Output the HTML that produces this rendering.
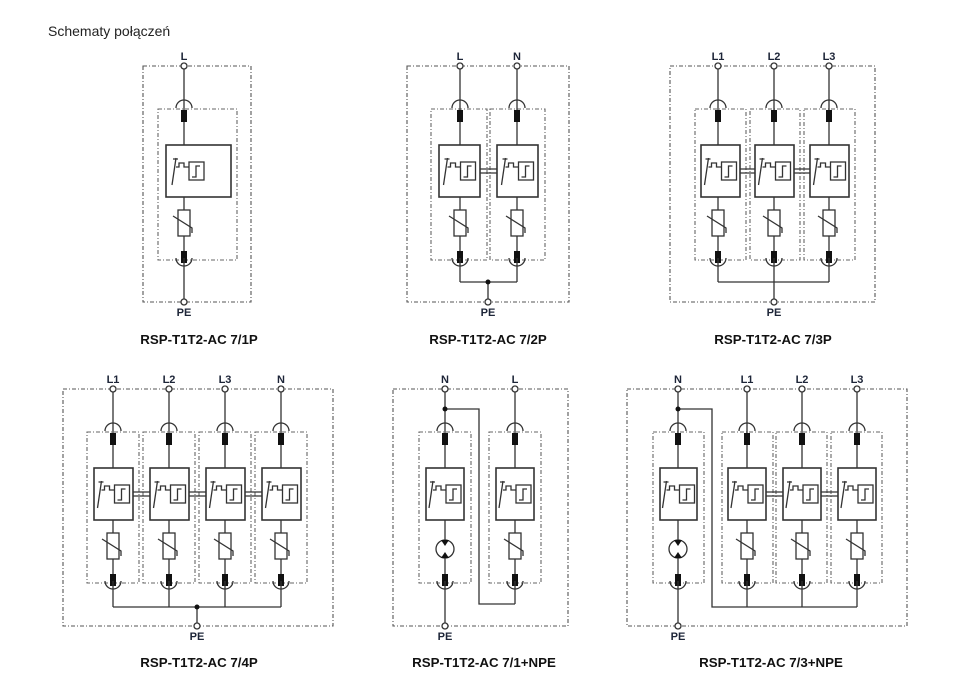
<!DOCTYPE html>
<html><head><meta charset="utf-8"><style>
body{margin:0;background:#fff;width:955px;height:687px;overflow:hidden;font-family:"Liberation Sans",Arial,sans-serif}
svg{position:absolute;left:0;top:0}
text{font-family:"Liberation Sans",Arial,sans-serif}
.lb{font-size:11px;font-weight:bold;fill:#1d2538;text-anchor:middle}
.tt{font-size:13.3px;font-weight:bold;fill:#111;text-anchor:middle}
</style></head><body>
<svg id="s" width="955" height="687" viewBox="0 0 955 687">
<text x="48" y="36" style="font-size:14px;fill:#222">Schematy połączeń</text>
<text class="lb" x="184" y="60">L</text>
<text class="lb" x="184" y="316">PE</text>
<text class="tt" x="199" y="344">RSP-T1T2-AC 7/1P</text>
<text class="lb" x="460" y="60">L</text><text class="lb" x="517" y="60">N</text>
<text class="lb" x="488" y="316">PE</text>
<text class="tt" x="488" y="344">RSP-T1T2-AC 7/2P</text>
<text class="lb" x="718" y="60">L1</text><text class="lb" x="774" y="60">L2</text><text class="lb" x="829" y="60">L3</text>
<text class="lb" x="774" y="316">PE</text>
<text class="tt" x="773" y="344">RSP-T1T2-AC 7/3P</text>
<text class="lb" x="113" y="383">L1</text><text class="lb" x="169" y="383">L2</text><text class="lb" x="225" y="383">L3</text><text class="lb" x="281" y="383">N</text>
<text class="lb" x="197" y="640">PE</text>
<text class="tt" x="199" y="667">RSP-T1T2-AC 7/4P</text>
<text class="lb" x="445" y="383">N</text><text class="lb" x="515" y="383">L</text>
<text class="lb" x="445" y="640">PE</text>
<text class="tt" x="484" y="667">RSP-T1T2-AC 7/1+NPE</text>
<text class="lb" x="678" y="383">N</text><text class="lb" x="747" y="383">L1</text><text class="lb" x="802" y="383">L2</text><text class="lb" x="857" y="383">L3</text>
<text class="lb" x="678" y="640">PE</text>
<text class="tt" x="771" y="667">RSP-T1T2-AC 7/3+NPE</text>
<g id="g" fill="none" stroke="#333" stroke-width="1.3"></g>
</svg>
<script>
var o='';
function dbox(x1,y1,x2,y2,c){o+=`<rect x="${x1}" y="${y1}" width="${x2-x1}" height="${y2-y1}" stroke="${c||'#555'}" stroke-width="1.1" stroke-dasharray="4,2,1,2"/>`;}
function L(p){o+=`<path d="${p}"/>`;}
function circ(x,y){o+=`<circle cx="${x}" cy="${y}" r="3" fill="#fff"/>`;}
function dot(x,y){o+=`<circle cx="${x}" cy="${y}" r="2.5" fill="#111" stroke="none"/>`;}
function trig(x1,y1,x2,y2){
 o+=`<rect x="${x1}" y="${y1}" width="${x2-x1}" height="${y2-y1}" stroke-width="1.6"/>`;
 var w=x2-x1, cy=(y1+y2)/2, sx=x1+Math.min(22,w/2);
 L(`M${sx-16} ${cy+14} L${sx-12} ${cy-13} M${sx-15} ${cy-12} H${sx-10}`);
 L(`M${sx-12} ${cy-4} H${sx-9} V${cy-8} H${sx-4} V${cy-4} H${sx+1}`);
 o+=`<rect x="${sx+1}" y="${cy-9}" width="15" height="18"/>`;
 L(`M${sx+4} ${cy+6} H${sx+8} V${cy-5} H${sx+12}`);
}
function vari(cx,y1,y2){
 o+=`<rect x="${cx-6}" y="${y1}" width="12" height="${y2-y1}" fill="#fff"/>`;
 var cy=(y1+y2)/2;
 L(`M${cx-11} ${cy-7} L${cx+8} ${cy+5} V${cy+10}`);
}
function gas(cx,cy){
 o+=`<circle cx="${cx}" cy="${cy}" r="9" fill="#fff"/>`;
 o+=`<path d="M${cx-4} ${cy-9} L${cx+4} ${cy-9} L${cx} ${cy-3} Z M${cx-4} ${cy+9} L${cx+4} ${cy+9} L${cx} ${cy+3} Z" fill="#111" stroke="none"/>`;
}
function mod(cx,bx1,bx2,Y0,tx1,tx2,g,Yb){
 var ya=Y0+42, yb=Y0+192;
 dbox(bx1,Y0+43,bx2,Y0+194,'#666');
 L(`M${cx} ${Y0} V${Y0+79} M${cx} ${Y0+131} V${yb}`);
 L(`M${cx-8} ${ya} A8 8 0 0 1 ${cx+8} ${ya}`);
 L(`M${cx-8} ${yb} A8 8 0 0 0 ${cx+8} ${yb}`);
 o+=`<rect x="${cx-3}" y="${Y0+44}" width="6" height="12" fill="#111" stroke="none"/>`;
 o+=`<rect x="${cx-3}" y="${Y0+185}" width="6" height="12" fill="#111" stroke="none"/>`;
 trig(tx1,Y0+79,tx2,Y0+131);
 if(g) gas(cx,Y0+160); else vari(cx,Y0+144,Y0+170);
 if(Yb) L(`M${cx} ${yb} V${Yb}`);
}
function link(x1,x2,cy){L(`M${x1} ${cy-2} H${x2} M${x1} ${cy+2} H${x2}`);}
dbox(143,66,251,302);
mod(184,158,237,66,166,231,false,302);circ(184,66);circ(184,302);
dbox(407,66,569,302);
mod(460,431,487,66,439,480,false,282);mod(517,490,545,66,497,538,false,282);
link(480,497,171);L('M460 282 H517 M488 282 V302');dot(488,282);circ(460,66);circ(517,66);circ(488,302);
dbox(670,66,875,302);
[[718,695,746,701,740],[774,750,800,755,794],[829,804,855,810,849]].forEach(a=>{mod(a[0],a[1],a[2],66,a[3],a[4],false,282);circ(a[0],66);});
link(740,755,171);link(794,810,171);L('M718 282 H829 M774 282 V302');circ(774,302);
dbox(63,389,333,626);
[[113,87,139],[169,143,195],[225,199,251],[281,255,307]].forEach(a=>{mod(a[0],a[1],a[2],389,a[0]-19,a[0]+20,false,607);circ(a[0],389);});
link(133,150,494);link(189,206,494);link(245,262,494);
L('M113 607 H281 M197 607 V626');dot(197,607);circ(197,626);
dbox(393,389,568,626);
mod(445,419,471,389,426,464,true,626);mod(515,489,541,389,496,534,false,604);
L('M445 409 H479 V604 H515');dot(445,409);circ(445,389);circ(515,389);circ(445,626);
dbox(627,389,907,626);
mod(678,653,704,389,660,697,true,626);
[[747,722,773],[802,776,827],[857,831,882]].forEach(a=>{mod(a[0],a[1],a[2],389,a[0]-19,a[0]+19,false,607);circ(a[0],389);});
link(766,783,494);link(821,838,494);
L('M678 409 H712 V607 H857');dot(678,409);circ(678,389);circ(678,626);
document.getElementById('g').innerHTML=o;
</script>
</body></html>
